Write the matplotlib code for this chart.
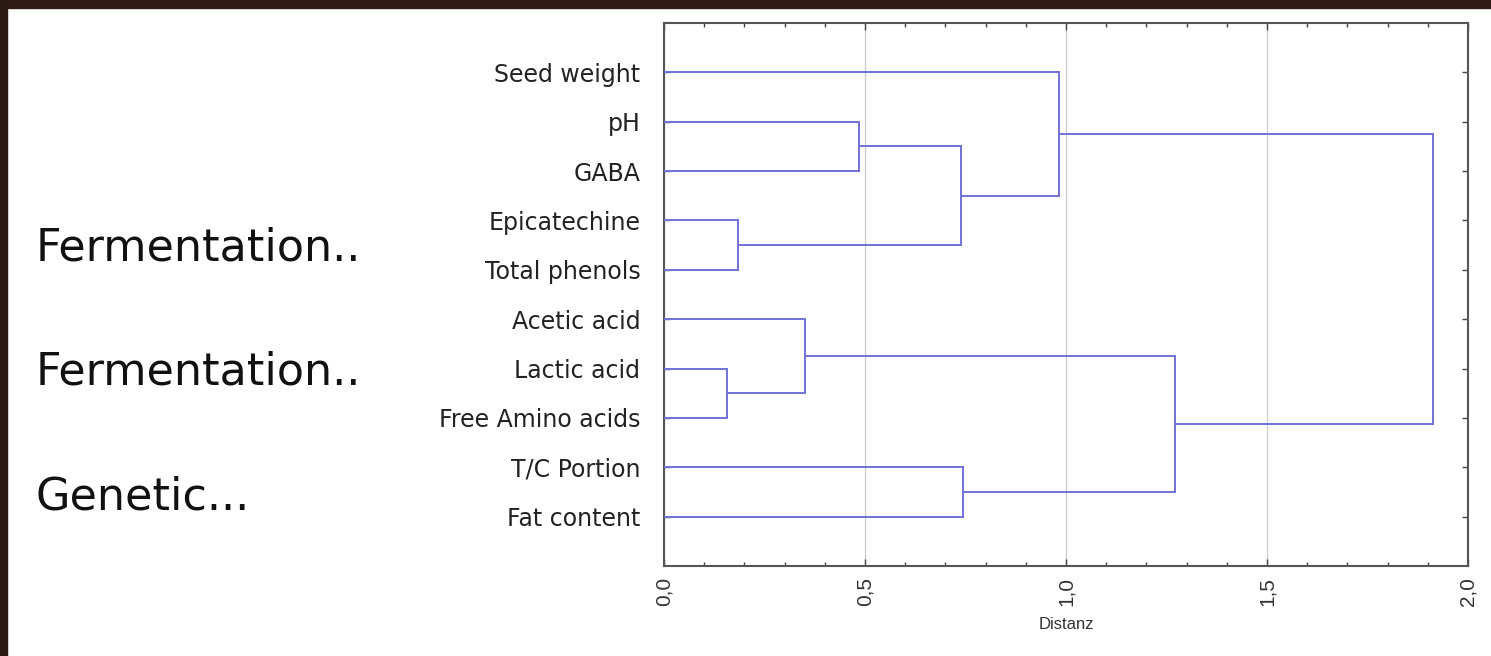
import numpy as np
import matplotlib.pyplot as plt
from matplotlib.patches import Rectangle
from matplotlib.ticker import MultipleLocator

# leaves, top to bottom
labels = ['Seed weight', 'pH', 'GABA', 'Epicatechine', 'Total phenols',
          'Acetic acid', 'Lactic acid', 'Free Amino acids', 'T/C Portion', 'Fat content']

# joins: (node a, node b, distance); new nodes numbered from 10 on
join_a = [3, 6, 5, 1, 13, 8, 0, 12, 16]
join_b = [4, 7, 11, 2, 10, 9, 14, 15, 17]
join_d = [0.183, 0.156, 0.351, 0.484, 0.739, 0.743, 0.983, 1.271, 1.913]

side_text = ['Fermentation..', 'Fermentation..', 'Genetic...']

line_col = '#7272d6'

fig = plt.figure(figsize=(14.91, 6.56), dpi=100)
fig.patch.set_facecolor('white')

# dark wooden frame strip on top and left
fig.patches.append(Rectangle((0, 1 - 8 / 656), 1, 8 / 656, transform=fig.transFigure,
                             color='#2e1c14', zorder=0))
fig.patches.append(Rectangle((0, 0), 7 / 1491, 1, transform=fig.transFigure,
                             color='#2a1a12', zorder=0))

ax = fig.add_axes([664 / 1491, 1 - 566 / 656, (1468 - 664) / 1491, (566 - 23) / 656])

# node positions
pos_y = {i: i + 1.0 for i in range(len(labels))}
pos_x = {i: 0.0 for i in range(len(labels))}
for k, (a, b, d) in enumerate(zip(join_a, join_b, join_d)):
    n = len(labels) + k
    ax.plot([pos_x[a], d], [pos_y[a], pos_y[a]], color=line_col, lw=1.4, zorder=3)
    ax.plot([pos_x[b], d], [pos_y[b], pos_y[b]], color=line_col, lw=1.4, zorder=3)
    ax.plot([d, d], [pos_y[a], pos_y[b]], color=line_col, lw=1.4, zorder=3)
    pos_x[n] = d
    pos_y[n] = (pos_y[a] + pos_y[b]) / 2

ax.set_xlim(0, 2.0)
ax.set_ylim(len(labels) + 1, 0)

ax.set_xticks([0, 0.5, 1.0, 1.5, 2.0])
ax.set_xticklabels(['0,0', '0,5', '1,0', '1,5', '2,0'], rotation=90,
                   fontsize=15, color='#333333', family='Liberation Sans')
ax.xaxis.set_minor_locator(MultipleLocator(0.1))
ax.set_yticks(range(1, len(labels) + 1))
ax.set_yticklabels(labels, fontsize=17, color='#222222', family='DejaVu Sans')

ax.tick_params(axis='both', which='both', direction='in', top=True, right=True,
               color='#444444', width=1)
ax.tick_params(axis='x', which='major', length=5, pad=8)
ax.tick_params(axis='x', which='minor', length=3)
ax.tick_params(axis='y', which='major', length=4, pad=17)

ax.grid(axis='x', which='major', color='#cccccc', lw=0.9)
ax.set_axisbelow(True)
for s in ax.spines.values():
    s.set_color('#555555')
    s.set_linewidth(1.5)

ax.set_xlabel('Distanz', fontsize=12, color='#333333', family='Liberation Sans', labelpad=8)

for t, y in zip(side_text, [248, 372, 497]):
    fig.text(36 / 1491, 1 - y / 656, t, fontsize=32, family='DejaVu Sans', color='#111111',
             va='center', ha='left')

fig.savefig('out.png', dpi=100)
